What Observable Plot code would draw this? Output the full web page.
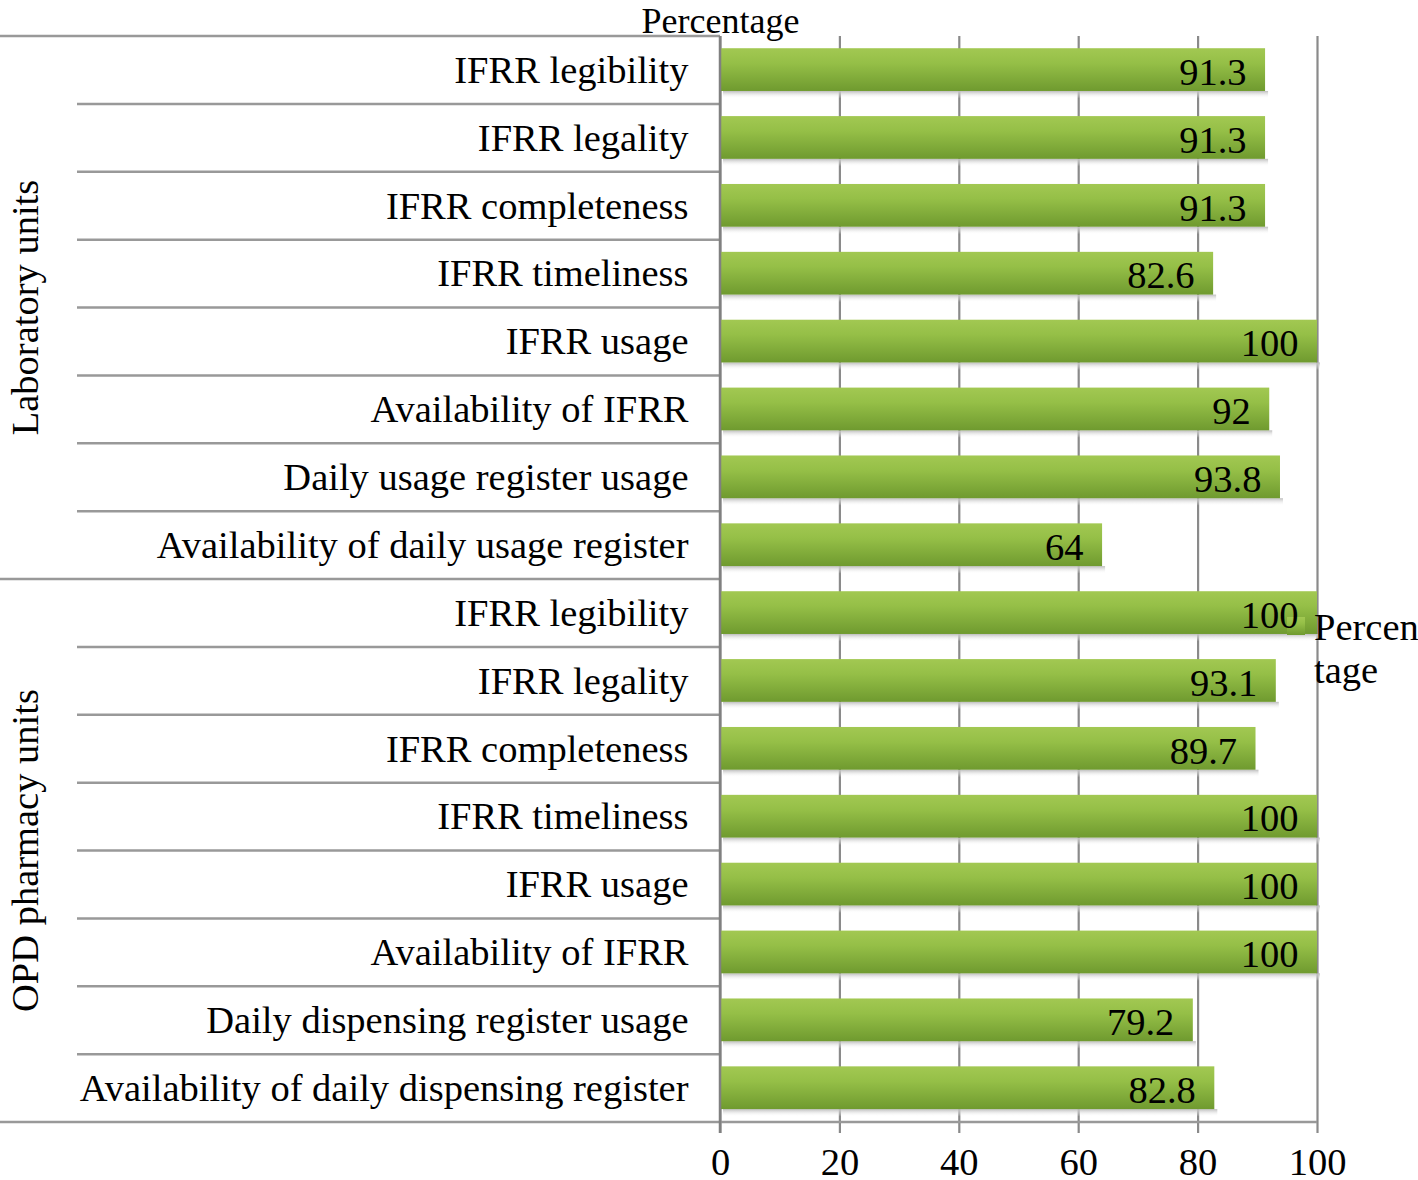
<!DOCTYPE html>
<html><head><meta charset="utf-8">
<script src="https://cdn.jsdelivr.net/npm/d3@7"></script>
<script src="https://cdn.jsdelivr.net/npm/@observablehq/plot@0.6"></script>
<style>body{margin:0;background:#fff}</style>
</head><body><div id="chart"></div>
<script>
const groups = ["Laboratory units", "OPD pharmacy units"];
const labCategories = ["IFRR legibility", "IFRR legality", "IFRR completeness", "IFRR timeliness", "IFRR usage", "Availability of IFRR", "Daily usage register usage", "Availability of daily usage register"];
const labValues = [91.3, 91.3, 91.3, 82.6, 100, 92, 93.8, 64];
const opdCategories = ["IFRR legibility", "IFRR legality", "IFRR completeness", "IFRR timeliness", "IFRR usage", "Availability of IFRR", "Daily dispensing register usage", "Availability of daily dispensing register"];
const opdValues = [100, 93.1, 89.7, 100, 100, 100, 79.2, 82.8];
const xTicks = [0, 20, 40, 60, 80, 100];
const seriesName = "Percentage";

const rows = [];
labCategories.forEach((c, j) => rows.push({group: groups[0], label: c, value: labValues[j], i: rows.length}));
opdCategories.forEach((c, j) => rows.push({group: groups[1], label: c, value: opdValues[j], i: rows.length}));
const nRows = rows.length;

const font = "'Liberation Serif', 'Times New Roman', serif";
const FS = 38.5;

const plot = Plot.plot({
  width: 1418, height: 1180,
  marginLeft: 720, marginRight: 101, marginTop: 36, marginBottom: 58,
  style: {fontFamily: font, fontSize: FS + "px", background: "#fff", color: "#000", overflow: "visible"},
  x: {domain: [0, 100]},
  y: {domain: [0, nRows], range: [36, 1122], axis: null},
  marks: [
    Plot.ruleX(xTicks, {y1: 0, y2: nRows, stroke: "#8a8a8a", strokeWidth: 2.2}),
    Plot.axisX(xTicks, {tickSize: 11, tickPadding: 14, fontSize: FS, stroke: "#8a8a8a", strokeWidth: 2.2, label: null, fill: "#000"}),
    Plot.rectX(rows, {x1: 0, x2: "value", y1: d => d.i + 0.81, y2: d => d.i + 0.92, dx: 3, fill: "url(#shadowGrad)"}),
    Plot.rectX(rows, {x1: 0, x2: "value", y1: d => d.i + 0.18, y2: d => d.i + 0.81, fill: "url(#barGrad)"}),
    Plot.text(rows, {x: "value", y: d => d.i + 0.5, text: d => String(d.value), textAnchor: "end", dx: -19, dy: 2, fontSize: FS, fill: "#000"}),
    Plot.text(rows, {x: () => 0, y: d => d.i + 0.5, text: "label", textAnchor: "end", dx: -32, fontSize: FS, fill: "#000"}),
    Plot.text([seriesName], {frameAnchor: "top-left", textAnchor: "middle", lineAnchor: "bottom", dy: -4, fontSize: 36, fill: "#000"})
  ]
});

const svg = d3.select(plot);
const defs = svg.insert("defs", ":first-child");
const g1 = defs.append("linearGradient").attr("id", "barGrad").attr("x1", 0).attr("y1", 0).attr("x2", 0).attr("y2", 1);
g1.append("stop").attr("offset", "0%").attr("stop-color", "#a2c852");
g1.append("stop").attr("offset", "35%").attr("stop-color", "#95bf47");
g1.append("stop").attr("offset", "100%").attr("stop-color", "#6f9a2f");
const g2 = defs.append("linearGradient").attr("id", "shadowGrad").attr("x1", 0).attr("y1", 0).attr("x2", 0).attr("y2", 1);
g2.append("stop").attr("offset", "0%").attr("stop-color", "#bdbdbd");
g2.append("stop").attr("offset", "100%").attr("stop-color", "#ffffff").attr("stop-opacity", 0);

const ys = plot.scale("y"), xs = plot.scale("x");
const y = v => ys.apply(v), x = v => xs.apply(v);
const tbl = svg.append("g").attr("stroke", "#999").attr("stroke-width", 2.5);
for (let k = 0; k <= nRows; k++) {
  const full = (k === 0 || k === labCategories.length || k === nRows);
  tbl.append("line").attr("x1", full ? 0 : 77).attr("x2", k === nRows ? x(100) : x(0))
    .attr("y1", y(k)).attr("y2", y(k));
}
tbl.append("line").attr("x1", x(0)).attr("x2", x(0)).attr("y1", y(0)).attr("y2", y(nRows) + 11).attr("stroke", "#808080");

const gl = svg.append("g").attr("font-family", font).attr("font-size", FS).attr("fill", "#000");
[[groups[0], 0, labCategories.length], [groups[1], labCategories.length, nRows]].forEach(([name, a, b]) => {
  const cy = (y(a) + y(b)) / 2;
  gl.append("text").attr("transform", `translate(38,${cy}) rotate(-90)`).attr("text-anchor", "middle").text(name);
});

// legend (swatch above the bars but below the value text)
const lg = svg.append("g").attr("font-family", font).attr("font-size", FS).attr("fill", "#000").attr("text-anchor", "start");
lg.append("rect").attr("x", 1287).attr("y", 617).attr("width", 18).attr("height", 18).attr("fill", "url(#barGrad)");
lg.append("text").attr("x", 1314).attr("y", 640).text(seriesName.slice(0, 6));
lg.append("text").attr("x", 1314).attr("y", 683).text(seriesName.slice(6));
const valueText = svg.selectAll("g[aria-label='text']").nodes()[0];
if (valueText) valueText.parentNode.insertBefore(lg.node(), valueText);

document.getElementById("chart").appendChild(plot);
</script>
</body></html>
